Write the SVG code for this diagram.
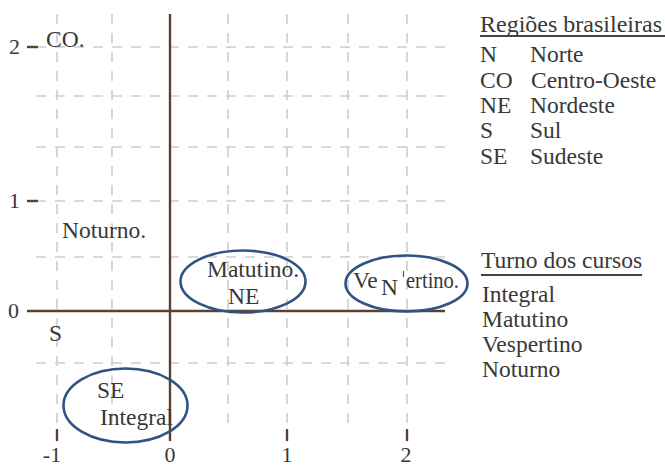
<svg xmlns="http://www.w3.org/2000/svg" width="665" height="467" viewBox="0 0 665 467" font-family="'Liberation Serif', 'DejaVu Serif', 'Times New Roman', serif">
  <style>
    text { font-family: 'Liberation Serif', 'DejaVu Serif', 'Times New Roman', serif; font-size: 23.5px; fill: #383838; }
    .num { font-size: 22px; }
    .grid { stroke: #cdcdcd; stroke-width: 1.6; stroke-dasharray: 10 9; fill: none; }
    .axis { stroke: #5c4030; stroke-width: 2.4; fill: none; }
    .tick { stroke: #5c4030; stroke-width: 2.4; }
    .ring { fill: none; stroke: #2f5382; stroke-width: 2.6; }
    .rule { stroke: #444; stroke-width: 2; }
  </style>

  <!-- dashed grid -->
  <g id="grid">
    <line class="grid" x1="36" y1="47" x2="447" y2="47"/>
    <line class="grid" x1="36" y1="96" x2="447" y2="96"/>
    <line class="grid" x1="36" y1="147" x2="447" y2="147"/>
    <line class="grid" x1="36" y1="201" x2="447" y2="201"/>
    <line class="grid" x1="36" y1="257" x2="447" y2="257"/>
    <line class="grid" x1="36" y1="363" x2="447" y2="363"/>
    <line class="grid" x1="57" y1="14" x2="57" y2="429"/>
    <line class="grid" x1="112" y1="14" x2="112" y2="429"/>
    <line class="grid" x1="228" y1="14" x2="228" y2="429"/>
    <line class="grid" x1="287" y1="14" x2="287" y2="429"/>
    <line class="grid" x1="348" y1="14" x2="348" y2="429"/>
    <line class="grid" x1="407" y1="14" x2="407" y2="429"/>
  </g>

  <!-- axes, ticks and scale numbers -->
  <g id="axes">
    <line class="axis" x1="170" y1="14" x2="170" y2="441"/>
    <line class="axis" x1="27" y1="311" x2="445" y2="311"/>
    <line class="tick" x1="27" y1="47" x2="38" y2="47"/>
    <line class="tick" x1="27" y1="201" x2="38" y2="201"/>
    <line class="tick" x1="57" y1="429" x2="57" y2="441"/>
    <line class="tick" x1="287" y1="429" x2="287" y2="441"/>
    <line class="tick" x1="407" y1="429" x2="407" y2="441"/>
    <text class="num" x="9" y="54">2</text>
    <text class="num" x="9" y="208">1</text>
    <text class="num" x="8" y="318">0</text>
    <text class="num" x="52" y="462" text-anchor="middle">-1</text>
    <text class="num" x="170" y="462" text-anchor="middle">0</text>
    <text class="num" x="287" y="462" text-anchor="middle">1</text>
    <text class="num" x="406" y="462" text-anchor="middle">2</text>
  </g>

  <!-- point labels -->
  <g id="node-co"><text x="46" y="47">CO.</text></g>
  <g id="node-noturno"><text x="62" y="238">Noturno.</text></g>
  <g id="node-s"><text x="49" y="341">S</text></g>

  <g id="node-se-integral">
    <ellipse class="ring" cx="125.5" cy="405.5" rx="62" ry="37"/>
    <text x="97" y="398">SE</text>
    <text x="100" y="425">Integral</text>
  </g>

  <g id="node-matutino-ne">
    <ellipse class="ring" cx="243" cy="281.5" rx="62.5" ry="31"/>
    <text x="207" y="277">Matutino.</text>
    <text x="228" y="304">NE</text>
  </g>

  <g id="node-vespertino-n">
    <ellipse class="ring" cx="406.5" cy="283.5" rx="61" ry="28"/>
    <text x="353" y="288">Ve</text>
    <text x="381" y="295">N</text>
    <line x1="403.5" y1="271" x2="403.5" y2="277" stroke="#555" stroke-width="1.2"/>
    <text x="406" y="288" textLength="53" lengthAdjust="spacingAndGlyphs">ertino.</text>
  </g>

  <!-- legends -->
  <g id="legend-regioes">
    <text x="480" y="32" textLength="182" lengthAdjust="spacingAndGlyphs">Regiões brasileiras</text>
    <line class="rule" x1="480" y1="36" x2="665" y2="36"/>
    <text x="480" y="62">N</text><text x="530" y="62">Norte</text>
    <text x="480" y="88">CO</text><text x="531" y="88">Centro-Oeste</text>
    <text x="480" y="113">NE</text><text x="530" y="113">Nordeste</text>
    <text x="480" y="138">S</text><text x="530" y="138">Sul</text>
    <text x="480" y="164">SE</text><text x="530" y="164">Sudeste</text>
  </g>

  <g id="legend-turno">
    <text x="481" y="268">Turno dos cursos</text>
    <line class="rule" x1="481" y1="275" x2="642" y2="275"/>
    <text x="482" y="302">Integral</text>
    <text x="482" y="327">Matutino</text>
    <text x="482" y="352">Vespertino</text>
    <text x="482" y="377">Noturno</text>
  </g>
</svg>
